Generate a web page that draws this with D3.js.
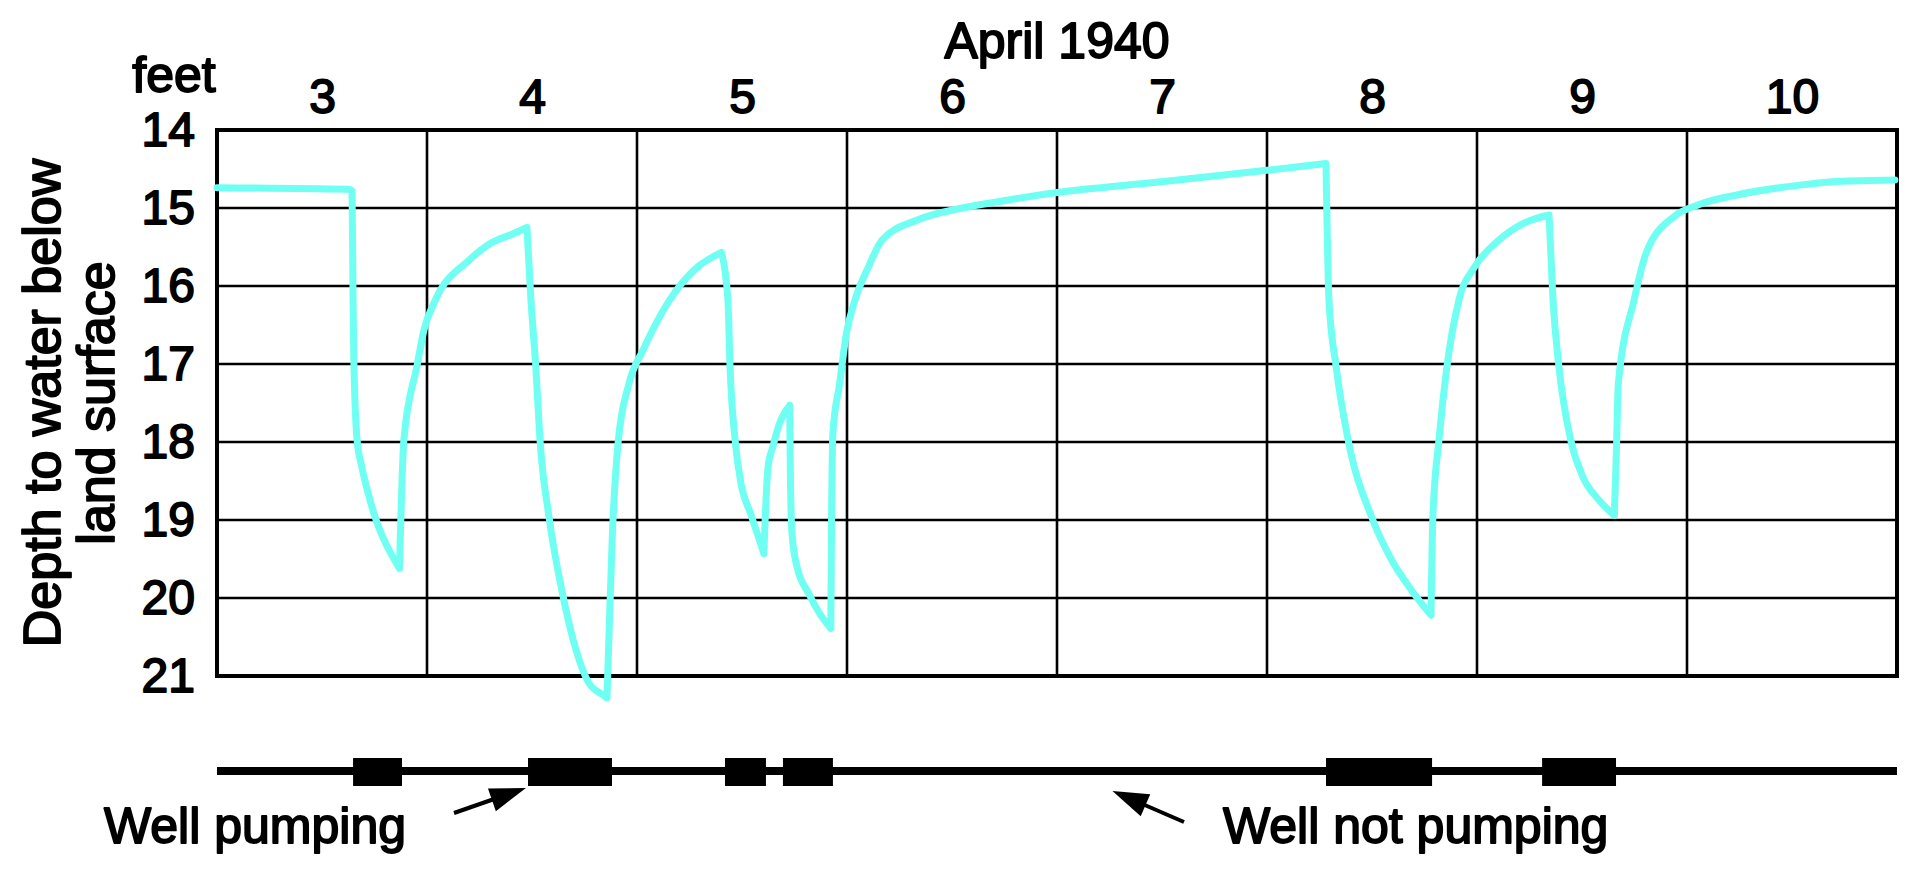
<!DOCTYPE html>
<html>
<head>
<meta charset="utf-8">
<script src="https://cdn.jsdelivr.net/npm/d3@7/dist/d3.min.js"></script>
<style>
    body { margin: 0; background: #fff; }
    svg { display: block; }
    svg text {
        font-family: "Liberation Sans", Arial, Helvetica, sans-serif;
        fill: #000;
        stroke: #000;
        stroke-width: 1.8px;
        stroke-linejoin: round;
    }
</style>
</head>
<body>
<svg id="chart" width="1924" height="874"></svg>
<script>
// days of April 1940 shown on the chart, and depth ticks in feet
var dayLabels = [3, 4, 5, 6, 7, 8, 9, 10];
var depthTicks = [14, 15, 16, 17, 18, 19, 20, 21];

// hydrograph: time in days (April), depth in feet
var day = [
    3.000, 3.624, 3.643, 3.648, 3.652, 3.667, 3.688, 3.719, 3.869,
    3.890, 3.952, 3.986, 4.040, 4.200, 4.305, 4.410, 4.476,
    4.495, 4.518, 4.538, 4.581, 4.645, 4.710, 4.771, 4.848, 4.857,
    4.867, 4.883, 4.910, 4.962, 5.029, 5.155, 5.274, 5.402,
    5.433, 5.443, 5.467, 5.498, 5.540, 5.604,
    5.624, 5.647, 5.679, 5.727,
    5.730, 5.738, 5.762, 5.817, 5.870, 5.923,
    5.926, 5.933, 5.965, 5.997, 6.038, 6.103, 6.167, 6.338, 6.550, 6.762, 6.976, 7.400, 7.989, 8.281,
    8.295, 8.329, 8.386, 8.498, 8.593, 8.688, 8.781,
    8.790, 8.819, 8.857, 8.914, 8.990, 9.105, 9.219, 9.343,
    9.362, 9.390, 9.446, 9.503, 9.579, 9.654,
    9.664, 9.673, 9.748, 9.805, 9.938, 10.052, 10.243, 10.526, 10.714, 10.990
];
var depth = [
    14.74, 14.76, 14.78, 16.20, 17.00, 17.97, 18.30, 18.65, 19.62,
    17.97, 17.03, 16.56, 16.18, 15.67, 15.45, 15.33, 15.25,
    16.18, 17.03, 17.97, 18.96, 19.94, 20.67, 21.09, 21.26, 21.28,
    20.45, 19.17, 18.01, 17.25, 16.82, 16.18, 15.79, 15.57,
    16.18, 17.03, 17.97, 18.57, 18.91, 19.43,
    18.32, 18.06, 17.76, 17.53,
    18.32, 19.17, 19.60, 19.94, 20.20, 20.39,
    19.17, 17.88, 17.25, 16.61, 16.18, 15.75, 15.41, 15.15, 15.00, 14.90, 14.81, 14.69, 14.52, 14.43,
    16.18, 17.03, 17.97, 18.96, 19.51, 19.90, 20.22,
    18.96, 17.97, 17.03, 16.18, 15.75, 15.41, 15.20, 15.09,
    16.18, 17.03, 17.97, 18.44, 18.74, 18.94,
    18.10, 17.25, 16.18, 15.58, 15.11, 14.96, 14.83, 14.71, 14.66, 14.64
];

// periods when the well was pumping (start day, end day)
var pumpStart = [3.648, 4.481, 5.419, 5.695, 8.281, 9.310];
var pumpEnd = [3.881, 4.881, 5.614, 5.933, 8.786, 9.662];

var plot = { left: 217, right: 1897, top: 130, bottom: 676 };

var svg = d3.select('#chart');

svg.append('rect')
    .attr('width', 1924)
    .attr('height', 874)
    .attr('fill', '#fff');

var x = d3.scaleLinear().domain([3, 11]).range([plot.left, plot.right]);
var y = d3.scaleLinear().domain([14, 21]).range([plot.top, plot.bottom]);

// grid
var grid = svg.append('g').attr('class', 'grid')
    .attr('stroke', '#000')
    .attr('stroke-width', 2.6);

grid.selectAll('.hline')
    .data(depthTicks.slice(1, -1))
    .enter().append('line')
    .attr('class', 'hline')
    .attr('x1', plot.left).attr('x2', plot.right)
    .attr('y1', function(d) { return y(d); })
    .attr('y2', function(d) { return y(d); });

grid.selectAll('.vline')
    .data(dayLabels.slice(1))
    .enter().append('line')
    .attr('class', 'vline')
    .attr('y1', plot.top).attr('y2', plot.bottom)
    .attr('x1', function(d) { return x(d); })
    .attr('x2', function(d) { return x(d); });

svg.append('rect')
    .attr('x', plot.left)
    .attr('y', plot.top)
    .attr('width', plot.right - plot.left)
    .attr('height', plot.bottom - plot.top)
    .attr('fill', 'none')
    .attr('stroke', '#000')
    .attr('stroke-width', 4);

// axes (labels only)
var yAxis = d3.axisLeft(y)
    .tickValues(depthTicks)
    .tickSize(0)
    .tickPadding(22)
    .tickFormat(d3.format('d'));

svg.append('g')
    .attr('class', 'y-axis')
    .attr('transform', 'translate(' + plot.left + ',0)')
    .call(yAxis)
    .call(function(g) { g.select('.domain').remove(); })
    .selectAll('text')
    .attr('font-size', 48)
    .attr('font-family', null);

var xAxis = d3.axisTop(x)
    .tickValues(dayLabels.map(function(d) { return d + 0.5; }))
    .tickSize(0)
    .tickPadding(17)
    .tickFormat(function(d) { return Math.floor(d); });

svg.append('g')
    .attr('class', 'x-axis')
    .attr('transform', 'translate(0,' + plot.top + ')')
    .call(xAxis)
    .call(function(g) { g.select('.domain').remove(); })
    .selectAll('text')
    .attr('font-size', 48)
    .attr('font-family', null);

svg.append('text')
    .attr('x', x(7))
    .attr('y', 58)
    .attr('text-anchor', 'middle')
    .attr('font-size', 50)
    .text('April 1940');

svg.append('text')
    .attr('x', 174)
    .attr('y', 92)
    .attr('text-anchor', 'middle')
    .attr('font-size', 50)
    .text('feet');

var yTitle = svg.append('text')
    .attr('transform', 'translate(0,' + ((plot.top + plot.bottom) / 2) + ') rotate(-90)')
    .attr('text-anchor', 'middle')
    .attr('font-size', 52);

yTitle.append('tspan').attr('x', 0).attr('y', 60).text('Depth to water below');
yTitle.append('tspan').attr('x', 0).attr('y', 114).text('land surface');

// hydrograph: split at turning points so drawdown minima and recovery
// peaks stay sharp, each limb smoothed on its own
var points = day.map(function(d, i) { return [d, depth[i]]; });

var limbs = [];
var current = [points[0]];
for (var i = 1; i < points.length; i++) {
    current.push(points[i]);
    if (i < points.length - 1) {
        var a = points[i][1] - points[i - 1][1];
        var b = points[i + 1][1] - points[i][1];
        if (a * b < 0) {
            limbs.push(current);
            current = [points[i]];
        }
    }
}
limbs.push(current);

var line = d3.line()
    .x(function(d) { return x(d[0]); })
    .y(function(d) { return y(d[1]); })
    .curve(d3.curveMonotoneX);

svg.append('path')
    .attr('class', 'hydrograph')
    .attr('d', limbs.map(function(l) { return line(l); }).join(''))
    .attr('fill', 'none')
    .attr('stroke', '#6ffff3')
    .attr('stroke-width', 7)
    .attr('stroke-linejoin', 'round')
    .attr('stroke-linecap', 'round');

// pumping record bar
var barY = 771;

svg.append('line')
    .attr('x1', x(3)).attr('x2', x(11))
    .attr('y1', barY).attr('y2', barY)
    .attr('stroke', '#000')
    .attr('stroke-width', 8);

svg.selectAll('.pump')
    .data(pumpStart)
    .enter().append('rect')
    .attr('class', 'pump')
    .attr('x', function(d) { return x(d); })
    .attr('width', function(d, i) { return x(pumpEnd[i]) - x(d); })
    .attr('y', barY - 13)
    .attr('height', 28)
    .attr('fill', '#000');

// annotations
function arrow(x1, y1, x2, y2) {
    var dx = x2 - x1, dy = y2 - y1;
    var len = Math.sqrt(dx * dx + dy * dy);
    var ux = dx / len, uy = dy / len;
    var headLen = 36, headW = 12;
    var bx = x2 - ux * headLen, by = y2 - uy * headLen;

    svg.append('line')
        .attr('x1', x1).attr('y1', y1)
        .attr('x2', bx + ux * 4).attr('y2', by + uy * 4)
        .attr('stroke', '#000')
        .attr('stroke-width', 4);

    svg.append('path')
        .attr('d', 'M' + x2 + ',' + y2 +
            'L' + (bx - uy * headW) + ',' + (by + ux * headW) +
            'L' + (bx + uy * headW) + ',' + (by - ux * headW) + 'Z')
        .attr('fill', '#000');
}

arrow(454, 813, x(4.471), barY + 17);
arrow(1184, 822, x(7.264), barY + 20);

svg.append('text')
    .attr('x', 104)
    .attr('y', 843)
    .attr('font-size', 50)
    .text('Well pumping');

svg.append('text')
    .attr('x', 1223)
    .attr('y', 843)
    .attr('font-size', 50)
    .text('Well not pumping');
</script>
</body>
</html>
